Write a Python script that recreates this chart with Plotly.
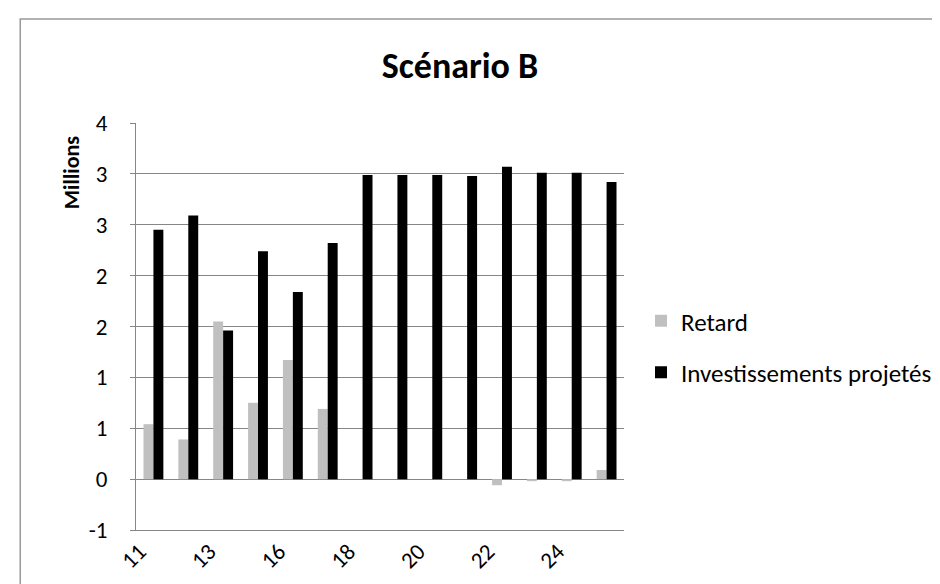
import plotly.graph_objects as go

categories = ["11", "12", "13", "15", "16", "17", "18", "19", "20", "21", "22", "23", "24", "25"]
retard = [0.54, 0.39, 1.55, 0.75, 1.17, 0.69, 0.0, 0.0, 0.0, 0.0, -0.06, -0.02, -0.02, 0.09]
investissements = [2.45, 2.59, 1.46, 2.24, 1.84, 2.32, 2.99, 2.99, 2.99, 2.98, 3.07, 3.01, 3.01, 2.92]
shown_labels = ["11", "13", "16", "18", "20", "22", "24"]
y_tickvals = [-0.5, 0, 0.5, 1.0, 1.5, 2.0, 2.5, 3.0, 3.5]
y_ticktext = ["-1", "0", "1", "1", "2", "2", "3", "3", "4"]

FONT = "Carlito, Calibri, Lato, sans-serif"
GRID = "#868686"

fig = go.Figure()
fig.add_trace(go.Bar(x=categories, y=retard, name="Retard", legendgroup="g1",
                     marker=dict(color="#C0C0C0", line=dict(width=0))))
fig.add_trace(go.Bar(x=categories, y=investissements, name="Investissements projetés", legendgroup="g2",
                     marker=dict(color="#000000", line=dict(width=0))))

W, H = 940, 584
L, R, T, B = 128, 323, 115, 62
pw, ph = W - L - R, H - T - B

def px_to_paper_x(px):
    return (px - L) / pw

def px_to_paper_y(py):
    return (H - B - py) / ph

fig.update_layout(
    width=W, height=H,
    margin=dict(l=L, r=R, t=T, b=B, pad=0),
    paper_bgcolor="white", plot_bgcolor="white",
    barmode="group", bargap=0.43, bargroupgap=0,
    font=dict(family=FONT, color="black"),
    title=dict(text="<b>Scénario B</b>", x=452 / W, xref="container", xanchor="center",
               y=1 - 57 / H, yref="container", yanchor="middle",
               font=dict(size=36, family=FONT, color="black")),
    legend=dict(x=px_to_paper_x(633), xanchor="left", y=px_to_paper_y(290), yanchor="top",
                font=dict(size=25, family=FONT, color="black"), itemwidth=30,
                traceorder="grouped", tracegroupgap=16, bgcolor="rgba(0,0,0,0)"),
    showlegend=True,
)

fig.update_xaxes(
    type="category", categoryorder="array", categoryarray=categories,
    tickmode="array", tickvals=shown_labels, ticktext=shown_labels,
    tickangle=-45, ticks="", showgrid=False,
    showline=True, linecolor=GRID, linewidth=1,
    ticklabelshift=-14, ticklabelstandoff=-2,
    tickfont=dict(size=23, family=FONT, color="black"),
)
fig.update_yaxes(
    range=[-0.5, 3.5], tickmode="array", tickvals=y_tickvals, ticktext=y_ticktext,
    showgrid=True, gridcolor=GRID, gridwidth=1,
    zeroline=True, zerolinecolor=GRID, zerolinewidth=1,
    showline=True, linecolor=GRID, linewidth=1,
    ticks="outside", ticklen=5, tickcolor=GRID,
    ticklabelstandoff=18,
    tickfont=dict(size=23, family=FONT, color="black"),
)

fig.add_annotation(text="<b>Millions</b>", textangle=-90, xref="paper", yref="paper",
                   x=px_to_paper_x(63), y=px_to_paper_y(165), xanchor="center", yanchor="middle",
                   showarrow=False, font=dict(size=22, family=FONT, color="black"))

# chart frame border
fig.add_shape(type="rect", xref="paper", yref="paper",
              x0=px_to_paper_x(12), x1=px_to_paper_x(960),
              y0=px_to_paper_y(600), y1=px_to_paper_y(11),
              line=dict(color="#999999", width=1.5), fillcolor="rgba(0,0,0,0)", layer="below")

fig.write_html("out.html")
